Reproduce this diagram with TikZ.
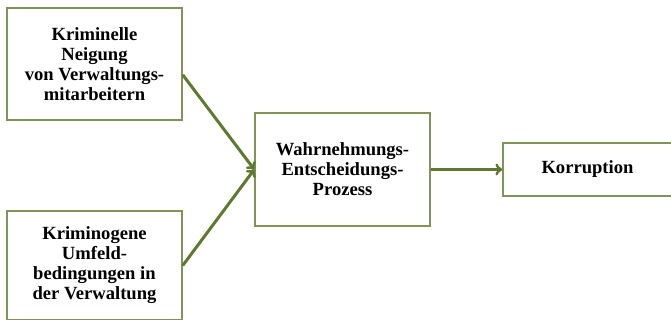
\documentclass[tikz,border=0pt]{standalone}
\usepackage{fontspec}
\setmainfont{Liberation Serif}
\usetikzlibrary{shapes, arrows, positioning}
\definecolor{boxgreen}{RGB}{128,148,88}
\definecolor{arrowgreen}{RGB}{94,122,48}

\begin{document}
\begin{tikzpicture}[x=1pt, y=-1pt, >=to]
        % Define block styles
        \tikzstyle{block} = [draw=boxgreen, line width=1.5pt, fill=white, rectangle, align=center, inner sep=0pt, font=\fontsize{18.6}{20}\selectfont\bfseries]
        \tikzstyle{link} = [->, draw=arrowgreen, line width=3pt]

        \useasboundingbox (0,0) rectangle (671,320);

        % Nodes
        \node [block, minimum width=175pt, minimum height=112pt] (neigung) at (94.5,64) {Kriminelle\\Neigung\\von Verwaltungs-\\mitarbeitern};
        \node [block, minimum width=175pt, minimum height=109pt] (umfeld) at (94.5,265.5) {Kriminogene\\Umfeld-\\bedingungen in\\der Verwaltung};
        \node [block, minimum width=175pt, minimum height=113pt] (prozess) at (342.5,169.5) {Wahrnehmungs-\\Entscheidungs-\\Prozess};
        \node [block, minimum width=169pt, minimum height=53pt] (korruption) at (587.5,169.5) {Korruption};

        % Edges
        \draw [link] (neigung.-7) -- (prozess.west);
        \draw [link] (umfeld.east) -- (prozess.west);
        \draw [link] (prozess.east) -- (korruption.west);
    \end{tikzpicture}
\end{document}
